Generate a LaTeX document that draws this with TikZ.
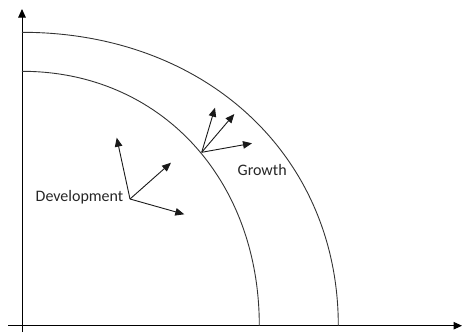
\documentclass[tikz,border=0pt]{standalone}
\usepackage{fontspec}
\setmainfont{Carlito}
\usetikzlibrary{arrows.meta}
\begin{document}
\begin{tikzpicture}[x=10pt,y=10pt,
  axis/.style={draw=black, line width=1pt, -{Triangle[length=8.5pt,width=7.5pt]}},
  ring/.style={draw=black!80, line width=0.9pt},
  push/.style={draw=black!90, line width=0.9pt, -{Triangle[length=9pt,width=7.5pt]}},
  word/.style={inner sep=0pt, text=black!85, font=\fontsize{16}{19}\selectfont}]
\useasboundingbox (0,0) rectangle (46.3,33.3);
\draw [axis] (2.2,0.1)--(2.2,32.4);
\draw [axis] (0.8,0.73)--(46.2,0.73);
\draw [ring] (2.2,30.07) .. controls (20.55,30.07) and (33.83,17.75) .. (33.83,0.73);
\draw [ring] (2.2,26.17) .. controls (15.96,26.17) and (25.93,15.49) .. (25.93,0.73);
\coordinate (dev) at (13,13.4);
\coordinate (devA) at (11.67,19.53);
\coordinate (devB) at (17.1,17.03);
\coordinate (devC) at (18.43,11.87);
\coordinate (grow) at (20.17,18.07);
\coordinate (growA) at (21.5,22.53);
\coordinate (growB) at (23.43,21.9);
\coordinate (growC) at (25.2,18.97);
\draw [push] (dev)--(devA);
\draw [push] (dev)--(devB);
\draw [push] (dev)--(devC);
\draw [push] (grow)--(growA);
\draw [push] (grow)--(growB);
\draw [push] (grow)--(growC);
\draw node [word, anchor=base east] (devtext) at (12.35,13.2) {Development};
\draw node [word, anchor=base west] (growtext) at (23.75,15.8) {Growth};
\end{tikzpicture}
\end{document}
